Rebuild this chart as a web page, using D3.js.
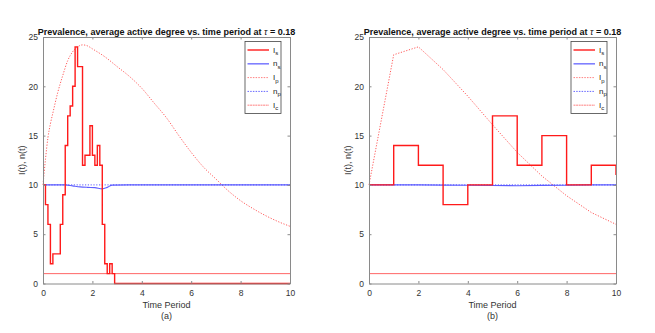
<!DOCTYPE html>
<html><head><meta charset="utf-8">
<script src="https://cdn.jsdelivr.net/npm/d3@7"></script>
<style>body{margin:0;background:#fff}svg{display:block}text{font-family:"Liberation Sans",Arial,sans-serif}</style>
</head><body><svg id="c" width="655" height="333"></svg>
<script>
// ---- data ----
const xTicks = [0, 2, 4, 6, 8, 10];
const yTicks = [0, 5, 10, 15, 20, 25];
// Panel (a)
const aIsTime = [0,0.1,0.2,0.3,0.4,0.5,0.6,0.7,0.8,0.9,1.0,1.1,1.2,1.3,1.4,1.5,1.6,1.7,1.8,1.9,2.0,2.1,2.2,2.3,2.4,2.5,2.6,2.7,2.8,2.9,10];
const aIsVal  = [10,8,6,2,3,3,3,6,9,14,17,18,20,24,22,22,12,13,13,16,13,12,14,12,6,2,1,2,1,0,0];
const aIpTime = [0,0.1,0.2,0.3,0.4,0.6,0.8,1.0,1.2,1.4,1.6,1.8,2.0,2.5,3.0,3.5,4.0,4.5,5.0,5.5,6.0,6.5,7.0,7.5,8.0,8.5,9.0,9.5,10];
const aIpVal  = [10,12.6,14.8,16.2,17.3,19.4,21.1,22.6,23.5,24.0,24.2,24.1,23.8,23.0,22.0,21.0,19.8,18.3,16.8,15.0,13.3,11.8,10.6,9.4,8.4,7.6,6.9,6.3,5.8];
const aNsTime = [0,0.9,1.2,1.5,1.8,2.1,2.4,2.6,2.8,3.5,10];
const aNsVal  = [10,10,9.9,9.8,9.75,9.72,9.6,9.75,9.98,10,10];
const aNpTime = [0,10];
const aNpVal  = [10,10];
const aIcTime = [0,10];
const aIcVal  = [1,1];
// Panel (b)
const bIsTime = [0,1,2,3,4,5,6,7,8,9,10];
const bIsVal  = [10,14,12,8,10,17,12,15,10,12,11];
const bIpTime = [0,1,2,3,4,5,6,7,8,9,10];
const bIpVal  = [10,23.2,24.0,21.7,19.0,16.1,13.3,10.9,8.9,7.2,6.0];
const bNsTime = [0,1,2,3,4,5,6,7,8,9,10];
const bNsVal  = [10,10,10,9.98,9.96,9.94,9.92,9.95,9.97,10,10];
const bNpTime = [0,10];
const bNpVal  = [10,10];
const bIcTime = [0,10];
const bIcVal  = [1,1];
const titleMain = "Prevalence, average active degree vs. time period at ";
const titleTau = "\u03C4";
const titleEnd = " = 0.18";
const xLabel = "Time Period";
const yLabel = "I(t), n(t)";
const legendBase = ["I","n","I","n","I"];
const legendSub  = ["s","s","p","p","c"];

// ---- drawing ----
const svg = d3.select("#c");
const zip = (t, v) => t.map((d, i) => [d, v[i]]);

const styles = {
  Is: {stroke:"#ff1a1a", width:1.4, dash:null, op:1},
  Ns: {stroke:"#4d4dff", width:1.1, dash:null, op:0.9},
  Ip: {stroke:"#ff3333", width:1, dash:"1.2,1.6", op:0.8},
  Np: {stroke:"#3333ff", width:1, dash:"1.2,1.6", op:0.8},
  Ic: {stroke:"#ff3333", width:1, dash:null, op:0.75}
};
const legendStyles = [
  {stroke:"#ff1a1a", width:1.4, dash:null, op:1},
  {stroke:"#8080ff", width:1.6, dash:null, op:1},
  {stroke:"#ff8080", width:1, dash:"1.5,1.2", op:1},
  {stroke:"#6666ff", width:1, dash:"1.5,1.2", op:1},
  {stroke:"#ffaaaa", width:1.6, dash:"2,0.6", op:1}
];

const panels = [
  {x0:43, x1:290, tag:"(a)", series:[
    {d:zip(aIcTime,aIcVal), s:"Ic", c:d3.curveLinear},
    {d:zip(aIpTime,aIpVal), s:"Ip", c:d3.curveMonotoneX},
    {d:zip(aNpTime,aNpVal), s:"Np", c:d3.curveLinear},
    {d:zip(aNsTime,aNsVal), s:"Ns", c:d3.curveMonotoneX},
    {d:zip(aIsTime,aIsVal), s:"Is", c:d3.curveStepAfter}
  ]},
  {x0:369, x1:616, tag:"(b)", series:[
    {d:zip(bIcTime,bIcVal), s:"Ic", c:d3.curveLinear},
    {d:zip(bIpTime,bIpVal), s:"Ip", c:d3.curveLinear},
    {d:zip(bNpTime,bNpVal), s:"Np", c:d3.curveLinear},
    {d:zip(bNsTime,bNsVal), s:"Ns", c:d3.curveLinear},
    {d:zip(bIsTime,bIsVal), s:"Is", c:d3.curveStepAfter}
  ]}
];
const yTop = 37, yBot = 283.5;
const axisCol = "#8a8a8a", textCol = "#333";

panels.forEach(p => {
  const x = d3.scaleLinear().domain([0,10]).range([p.x0, p.x1]);
  const y = d3.scaleLinear().domain([0,25]).range([yBot, yTop]);
  const g = svg.append("g");

  // series
  p.series.forEach(s => {
    const st = styles[s.s];
    g.append("path").datum(s.d)
      .attr("d", d3.line().x(d => x(d[0])).y(d => y(d[1])).curve(s.c))
      .attr("fill","none").attr("stroke", st.stroke).attr("stroke-width", st.width)
      .attr("stroke-opacity", st.op)
      .attr("stroke-dasharray", st.dash);
  });

  // axes
  const ax = g.append("g").attr("transform",`translate(0,${yBot})`)
    .call(d3.axisBottom(x).tickValues(xTicks).tickSizeInner(-2.5).tickSizeOuter(0).tickPadding(6).tickFormat(d3.format("d")));
  const axT = g.append("g").attr("transform",`translate(0,${yTop})`)
    .call(d3.axisTop(x).tickValues(xTicks).tickSizeInner(-2.5).tickSizeOuter(0).tickFormat(""));
  const ay = g.append("g").attr("transform",`translate(${p.x0},0)`)
    .call(d3.axisLeft(y).tickValues(yTicks).tickSizeInner(-2.5).tickSizeOuter(0).tickPadding(5).tickFormat(d3.format("d")));
  const ayR = g.append("g").attr("transform",`translate(${p.x1},0)`)
    .call(d3.axisRight(y).tickValues(yTicks).tickSizeInner(-2.5).tickSizeOuter(0).tickFormat(""));
  [ax,axT,ay,ayR].forEach(a => {
    a.selectAll("path").attr("stroke", axisCol).attr("stroke-width",1);
    a.selectAll("line").attr("stroke", axisCol);
    a.selectAll("text").attr("fill", textCol).style("font-size","8.5px");
  });

  // title
  const cx = (p.x0 + p.x1) / 2;
  const t = g.append("text").attr("x", cx).attr("y", 34.5).attr("text-anchor","middle")
    .attr("font-weight","bold").style("font-size","9px").attr("fill","#111");
  t.append("tspan").text(titleMain);
  t.append("tspan").attr("font-style","italic").attr("font-weight","normal").text(titleTau);
  t.append("tspan").text(titleEnd);
  const w = t.node().getComputedTextLength();
  t.style("font-size", (9 * 258 / w).toFixed(2) + "px");

  // labels
  g.append("text").attr("x", cx).attr("y", 308).attr("text-anchor","middle")
    .style("font-size","9px").attr("fill", textCol).text(xLabel);
  g.append("text").attr("x", cx).attr("y", 319).attr("text-anchor","middle")
    .style("font-size","9px").attr("fill", textCol).text(p.tag);
  g.append("text").attr("transform",`translate(${p.x0 - 18.5},${(yTop + yBot) / 2}) rotate(-90)`)
    .attr("text-anchor","middle").style("font-size","9px").attr("fill", textCol).text(yLabel);

  // legend
  const lw = 36, lh = 72, lx = p.x1 - 9 - lw, ly = 41.5;
  const lg = g.append("g");
  lg.append("rect").attr("x", lx).attr("y", ly).attr("width", lw).attr("height", lh)
    .attr("fill","#fff").attr("stroke","#444").attr("stroke-width",0.8);
  legendBase.forEach((b, i) => {
    const yy = ly + 8.5 + i * 13.8;
    const ls = legendStyles[i];
    lg.append("line").attr("x1", lx + 2.5).attr("x2", lx + 24).attr("y1", yy).attr("y2", yy)
      .attr("stroke", ls.stroke).attr("stroke-width", ls.width).attr("stroke-dasharray", ls.dash);
    const tx = lg.append("text").attr("x", lx + 28).attr("y", yy + 2.5)
      .style("font-size","8px").attr("fill","#222");
    tx.append("tspan").text(b);
    tx.append("tspan").attr("dy", 2.5).style("font-size","6px").text(legendSub[i]);
  });
});
</script></body></html>
